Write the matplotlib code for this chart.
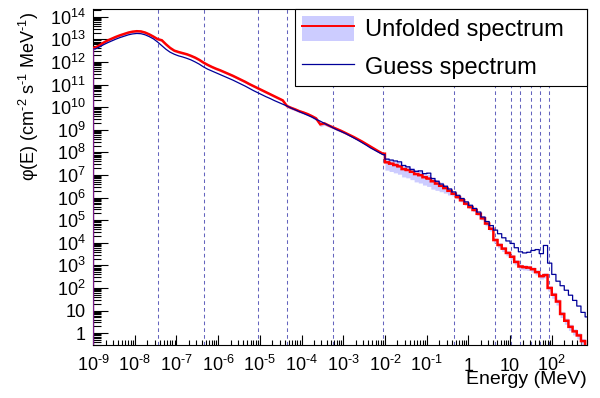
import numpy as np
import matplotlib
matplotlib.use('Agg')
import matplotlib.pyplot as plt
from matplotlib.patches import Patch
from matplotlib.lines import Line2D
from matplotlib.ticker import LogLocator, NullFormatter

plt.rcParams['font.family'] = ['Liberation Sans', 'DejaVu Sans']
plt.rcParams['mathtext.fontset'] = 'custom'
plt.rcParams['mathtext.rm'] = 'Liberation Sans'
plt.rcParams['mathtext.it'] = 'Liberation Sans:italic'
plt.rcParams['mathtext.bf'] = 'Liberation Sans:bold'

# ---- data: log10(E/MeV) bin edges, 0.1 decade bins from 1e-9 to ~800 MeV ----
log_edges = np.linspace(-9, 2.9, 120)

# log10 of unfolded spectrum per bin
unfolded_log = [
    12.63, 12.73, 12.85, 12.95, 13.03, 13.11, 13.18, 13.24, 13.30, 13.34,
    13.36, 13.35, 13.30, 13.22, 13.12, 13.01, 12.96, 12.78, 12.62, 12.50,
    12.44, 12.39, 12.34, 12.27, 12.19, 12.09, 11.97, 11.87, 11.78, 11.70,
    11.63, 11.55, 11.47, 11.39, 11.30, 11.21, 11.12, 11.02, 10.93, 10.84,
    10.75, 10.66, 10.57, 10.48, 10.39, 10.30, 10.05, 9.97, 9.90, 9.82,
    9.76, 9.69, 9.60, 9.50, 9.24, 9.28, 9.19, 9.11, 9.03, 8.95,
    8.86, 8.77, 8.68, 8.58, 8.48, 8.37, 8.26, 8.15, 8.04, 7.94,
    7.56, 7.50, 7.44, 7.38, 7.26, 7.22, 7.14, 7.04, 6.99, 6.90,
    6.84, 6.72, 6.62, 6.52, 6.42, 6.30, 6.17, 6.02, 5.88, 5.73,
    5.58, 5.45, 5.28, 5.08, 4.85, 4.62, 4.12, 3.90, 3.74, 3.55,
    3.38, 3.15, 2.95, 2.92, 2.90, 2.83, 2.70, 2.52, 2.57, 2.00,
    1.70, 1.40, 0.85, 0.55, 0.28, 0.08, -0.10, -0.35, -0.60,
]

# log10 of guess spectrum per bin
guess_log = [
    12.57, 12.66, 12.76, 12.85, 12.93, 13.01, 13.08, 13.14, 13.20, 13.24,
    13.26, 13.25, 13.20, 13.12, 13.02, 12.88, 12.72, 12.56, 12.43, 12.34,
    12.27, 12.22, 12.16, 12.09, 12.00, 11.90, 11.78, 11.68, 11.60, 11.52,
    11.44, 11.36, 11.28, 11.20, 11.11, 11.02, 10.93, 10.83, 10.73, 10.64,
    10.55, 10.46, 10.38, 10.29, 10.21, 10.13, 10.05, 9.96, 9.88, 9.80,
    9.72, 9.64, 9.56, 9.46, 9.38, 9.28, 9.19, 9.09, 9.00, 8.92,
    8.84, 8.74, 8.64, 8.54, 8.43, 8.32, 8.20, 8.10, 8.00, 7.90,
    7.70, 7.66, 7.62, 7.58, 7.42, 7.36, 7.24, 7.16, 7.18, 7.06,
    7.08, 6.84, 6.72, 6.60, 6.50, 6.38, 6.25, 6.10, 5.96, 5.81,
    5.66, 5.52, 5.36, 5.14, 4.94, 4.76, 4.56, 4.40, 4.22, 4.08,
    3.97, 3.78, 3.60, 3.55, 3.58, 3.66, 3.70, 3.52, 3.88, 3.10,
    2.60, 2.30, 2.10, 1.90, 1.68, 1.45, 1.20, 0.92, 0.72,
]

# relative uncertainty of the unfolded spectrum per bin
rel_err = [
    0.12, 0.12, 0.12, 0.12, 0.12, 0.12, 0.12, 0.12, 0.12, 0.12,
    0.12, 0.12, 0.12, 0.12, 0.12, 0.12, 0.12, 0.12, 0.12, 0.12,
    0.12, 0.12, 0.12, 0.12, 0.12, 0.12, 0.12, 0.12, 0.12, 0.12,
    0.12, 0.12, 0.12, 0.12, 0.12, 0.12, 0.12, 0.12, 0.12, 0.12,
    0.12, 0.12, 0.12, 0.12, 0.12, 0.12, 0.15, 0.15, 0.15, 0.15,
    0.15, 0.15, 0.18, 0.20, 0.20, 0.18, 0.15, 0.15, 0.15, 0.15,
    0.12, 0.12, 0.12, 0.12, 0.12, 0.12, 0.12, 0.12, 0.12, 0.12,
    0.55, 0.55, 0.55, 0.55, 0.55, 0.55, 0.55, 0.55, 0.55, 0.55,
    0.55, 0.55, 0.50, 0.45, 0.40, 0.35, 0.20, 0.15, 0.15, 0.15,
    0.15, 0.15, 0.15, 0.15, 0.20, 0.20, 0.25, 0.25, 0.25, 0.25,
    0.25, 0.25, 0.25, 0.25, 0.25, 0.25, 0.25, 0.25, 0.25, 0.25,
    0.30, 0.30, 0.30, 0.30, 0.30, 0.30, 0.30, 0.30, 0.30,
]

# energies of the vertical dashed marker lines (MeV)
marker_E = [3.6e-8, 4.6e-7, 9.2e-6, 4.6e-5, 5.6e-4, 9.0e-3, 0.46, 4.4,
            10.4, 17.4, 31.7, 52.0, 88.0]

labels = ['Unfolded spectrum', 'Guess spectrum']

x_tick_vals = [1e-9, 1e-8, 1e-7, 1e-6, 1e-5, 1e-4, 1e-3, 1e-2, 1e-1, 1, 10, 100]
x_tick_labels = ['$\\mathregular{10^{\u20109}}$', '$\\mathregular{10^{\u20108}}$',
                 '$\\mathregular{10^{\u20107}}$', '$\\mathregular{10^{\u20106}}$',
                 '$\\mathregular{10^{\u20105}}$', '$\\mathregular{10^{\u20104}}$',
                 '$\\mathregular{10^{\u20103}}$', '$\\mathregular{10^{\u20102}}$',
                 '$\\mathregular{10^{\u20101}}$', '1', '10', '$\\mathregular{10^{2}}$']
y_tick_vals = [10.0 ** k for k in range(0, 15)]
y_tick_labels = ['1', '10'] + ['$\\mathregular{10^{%d}}$' % k for k in range(2, 15)]

# ---- derived ----
edges = 10.0 ** log_edges
centers = 10.0 ** (0.5 * (log_edges[:-1] + log_edges[1:]))
unfolded = 10.0 ** np.array(unfolded_log)
guess = 10.0 ** np.array(guess_log)
err = np.array(rel_err)
band_lo = unfolded * (1 - err)
band_hi = unfolded * (1 + err)

SPLIT = 70  # bins below 1e-2 MeV drawn as a smooth polyline, above as steps


def path(vals):
    xs = [edges[0]] + list(centers[:SPLIT]) + [edges[SPLIT]]
    ys = [vals[0]] + list(vals[:SPLIT]) + [vals[SPLIT - 1]]
    for i in range(SPLIT, len(vals)):
        xs += [edges[i], edges[i + 1]]
        ys += [vals[i], vals[i]]
    return np.array(xs), np.array(ys)


fig = plt.figure(figsize=(6.0, 3.98), dpi=100)
ax = fig.add_axes([93/600, 53/398, 494/600, 336/398])
ax.set_xscale('log')
ax.set_yscale('log')
ax.set_xlim(1e-9, 700)
ax.set_ylim(0.3, 2.2e14)

for e in marker_E:
    ax.axvline(e, color='#6464be', lw=0.75, ls=(0, (3.5, 3)), zorder=1)

xb, ylo = path(band_lo)
_, yhi = path(band_hi)
ax.fill_between(xb, ylo, yhi, color='#ccccff', lw=0, zorder=2)
xr, yr = path(unfolded)
ax.plot(xr, yr, color='#ff0000', lw=1.8, zorder=3, solid_joinstyle='miter')
xg, yg = path(guess)
ax.plot(xg, yg, color='#000099', lw=0.9, zorder=4)
ax.vlines(edges[0], 1e-3, unfolded[0], color='#7a1a8a', lw=1.0, zorder=5)

ax.set_xticks(x_tick_vals, x_tick_labels, va='baseline')
ax.set_yticks(y_tick_vals, y_tick_labels)
ax.xaxis.set_minor_locator(LogLocator(base=10, subs=np.arange(2, 10), numticks=40))
ax.yaxis.set_minor_locator(LogLocator(base=10, subs=np.arange(2, 10), numticks=40))
ax.xaxis.set_minor_formatter(NullFormatter())
ax.yaxis.set_minor_formatter(NullFormatter())

ax.tick_params(axis='x', which='major', direction='in', length=7.2, width=0.8,
               labelsize=13, pad=19.0, top=False)
ax.tick_params(axis='x', which='minor', direction='in', length=3.6, width=0.8, top=False)
ax.tick_params(axis='y', which='major', direction='in', length=11, width=0.8,
               labelsize=13, pad=5, right=False)
ax.tick_params(axis='y', which='minor', direction='in', length=5.4, width=0.8, right=False)
for s in ax.spines.values():
    s.set_linewidth(0.8)

ax.set_xlabel('Energy (MeV)', fontsize=14, loc='right', va='baseline')
ax.xaxis.set_label_coords(1.0, -0.117)
ax.set_ylabel('\u03c6(E) (cm$^{\u20102}$ s$^{\u20101}$ MeV$^{\u20101}$)', fontsize=13,
              loc='top', va='baseline')
ax.yaxis.set_label_coords(-0.117, 0.991)

handles = [(Patch(facecolor='#ccccff', edgecolor='none'),
            Line2D([], [], color='#ff0000', lw=1.4)),
           Line2D([], [], color='#000099', lw=0.9)]
leg = ax.legend(handles, labels, loc='upper left',
                bbox_to_anchor=(0.409, 0.0, 0.591, 1.0), mode='expand',
                borderaxespad=0, fontsize=17, handlelength=2.2,
                handleheight=1.23, handletextpad=0.47, labelspacing=0.52,
                borderpad=0.3, fancybox=False, framealpha=1,
                edgecolor='black')
leg.get_frame().set_linewidth(0.8)
leg.set_zorder(10)

fig.savefig('out.png', dpi=100)
